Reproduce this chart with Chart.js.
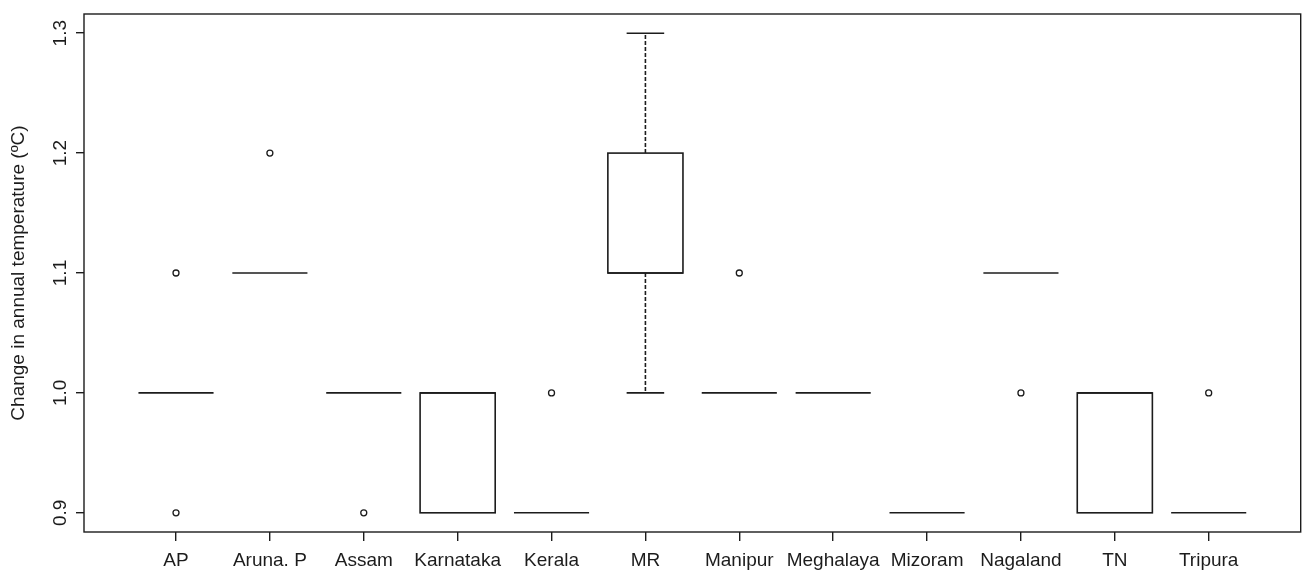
<!DOCTYPE html>
<html>
<head>
<meta charset="utf-8">
<script src="https://cdn.jsdelivr.net/npm/chart.js@4"></script>
<style>
  html,body{margin:0;padding:0;background:#fff;}
  #chart{display:block;}
</style>
</head>
<body>
<canvas id="chart" width="1305" height="574"></canvas>
<script>
/* DATA */
const categories = ["AP","Aruna. P","Assam","Karnataka","Kerala","MR","Manipur","Meghalaya","Mizoram","Nagaland","TN","Tripura"];
const whiskerLow  = [1.0, 1.1, 1.0, 0.9, 0.9, 1.0, 1.0, 1.0, 0.9, 1.1, 0.9, 0.9];
const q1          = [1.0, 1.1, 1.0, 0.9, 0.9, 1.1, 1.0, 1.0, 0.9, 1.1, 0.9, 0.9];
const median      = [1.0, 1.1, 1.0, 1.0, 0.9, 1.1, 1.0, 1.0, 0.9, 1.1, 1.0, 0.9];
const q3          = [1.0, 1.1, 1.0, 1.0, 0.9, 1.2, 1.0, 1.0, 0.9, 1.1, 1.0, 0.9];
const whiskerHigh = [1.0, 1.1, 1.0, 1.0, 0.9, 1.3, 1.0, 1.0, 0.9, 1.1, 1.0, 0.9];
const outliers    = [[1.1,0.9],[1.2],[0.9],[],[1.0],[],[1.1],[],[],[1.0],[],[1.0]];
const yTicks = [0.9, 1.0, 1.1, 1.2, 1.3];
const yTitle = "Change in annual temperature (ºC)";

const INK = "#1c1c1c";
const FONT = "Liberation Sans, Arial, Helvetica, sans-serif";

const outlierPoints = [];
outliers.forEach((arr,i)=>arr.forEach(v=>outlierPoints.push({x:i,y:v})));

/* BOX + WHISKERS + FRAME */
const boxPlugin = {
  id:"boxes",
  beforeDatasetsDraw(chart){
    const {ctx, chartArea:a, scales:{x,y}} = chart;
    ctx.save();
    ctx.strokeStyle = INK;
    ctx.lineWidth = 1.6;
    categories.forEach((c,i)=>{
      const xc = x.getPixelForValue(i);
      const hw = x.getPixelForValue(i+0.4) - xc;
      const cw = hw/2;
      const yq1 = y.getPixelForValue(q1[i]);
      const yq3 = y.getPixelForValue(q3[i]);
      const ym = y.getPixelForValue(median[i]);
      const ylo = y.getPixelForValue(whiskerLow[i]);
      const yhi = y.getPixelForValue(whiskerHigh[i]);
      // whiskers (dashed) and staples
      ctx.setLineDash([4,2]);
      ctx.beginPath();
      if (yhi < yq3){ ctx.moveTo(xc,yq3); ctx.lineTo(xc,yhi); }
      if (ylo > yq1){ ctx.moveTo(xc,yq1); ctx.lineTo(xc,ylo); }
      ctx.stroke();
      ctx.setLineDash([]);
      ctx.beginPath();
      if (yhi < yq3){ ctx.moveTo(xc-cw,yhi); ctx.lineTo(xc+cw,yhi); }
      if (ylo > yq1){ ctx.moveTo(xc-cw,ylo); ctx.lineTo(xc+cw,ylo); }
      ctx.stroke();
      // box
      if (q3[i] > q1[i]) ctx.strokeRect(xc-hw, yq3, hw*2, yq1-yq3);
      // median
      ctx.beginPath();
      ctx.moveTo(xc-hw,ym); ctx.lineTo(xc+hw,ym);
      ctx.stroke();
    });
    // frame
    ctx.lineWidth = 1.4;
    ctx.strokeRect(a.left, a.top, a.right-a.left, a.bottom-a.top);
    // y tick labels, rotated like R
    ctx.fillStyle = INK;
    ctx.font = "19px " + FONT;
    ctx.textAlign = "center";
    ctx.textBaseline = "middle";
    yTicks.forEach(v=>{
      ctx.save();
      ctx.translate(61, y.getPixelForValue(v));
      ctx.rotate(-Math.PI/2);
      ctx.fillText(v.toFixed(1), 0, 0);
      ctx.restore();
    });
    ctx.restore();
  }
};

new Chart(document.getElementById("chart"),{
  type:"scatter",
  data:{
    datasets:[{
      data:outlierPoints,
      pointRadius:3,
      pointHoverRadius:3,
      pointBorderWidth:1.3,
      borderColor:INK,
      backgroundColor:"#fff"
    }]
  },
  options:{
    responsive:false,
    animation:false,
    layout:{padding:{top:14,right:1,left:0,bottom:0}},
    plugins:{legend:{display:false},tooltip:{enabled:false}},
    scales:{
      x:{
        type:"linear",
        min:-0.98, max:11.98,
        afterFit(s){ s.height = 42; },
        afterBuildTicks(s){ s.ticks = categories.map((c,i)=>({value:i})); },
        grid:{drawOnChartArea:false, drawTicks:true, tickLength:9, color:INK, lineWidth:1.4},
        border:{display:false},
        ticks:{
          autoSkip:false, maxRotation:0, minRotation:0, padding:8,
          color:INK, font:{family:FONT, size:19},
          callback:(v)=>categories[v]
        }
      },
      y:{
        type:"linear",
        min:0.884, max:1.316,
        afterFit(s){ s.width = 84; },
        afterBuildTicks(s){ s.ticks = yTicks.map(v=>({value:v})); },
        grid:{drawOnChartArea:false, drawTicks:true, tickLength:8, color:INK, lineWidth:1.4},
        border:{display:false},
        ticks:{display:false},
        title:{
          display:true, text:yTitle, color:INK,
          font:{family:FONT, size:19}, padding:{top:7,bottom:0}
        }
      }
    }
  },
  plugins:[boxPlugin]
});
</script>
</body>
</html>
